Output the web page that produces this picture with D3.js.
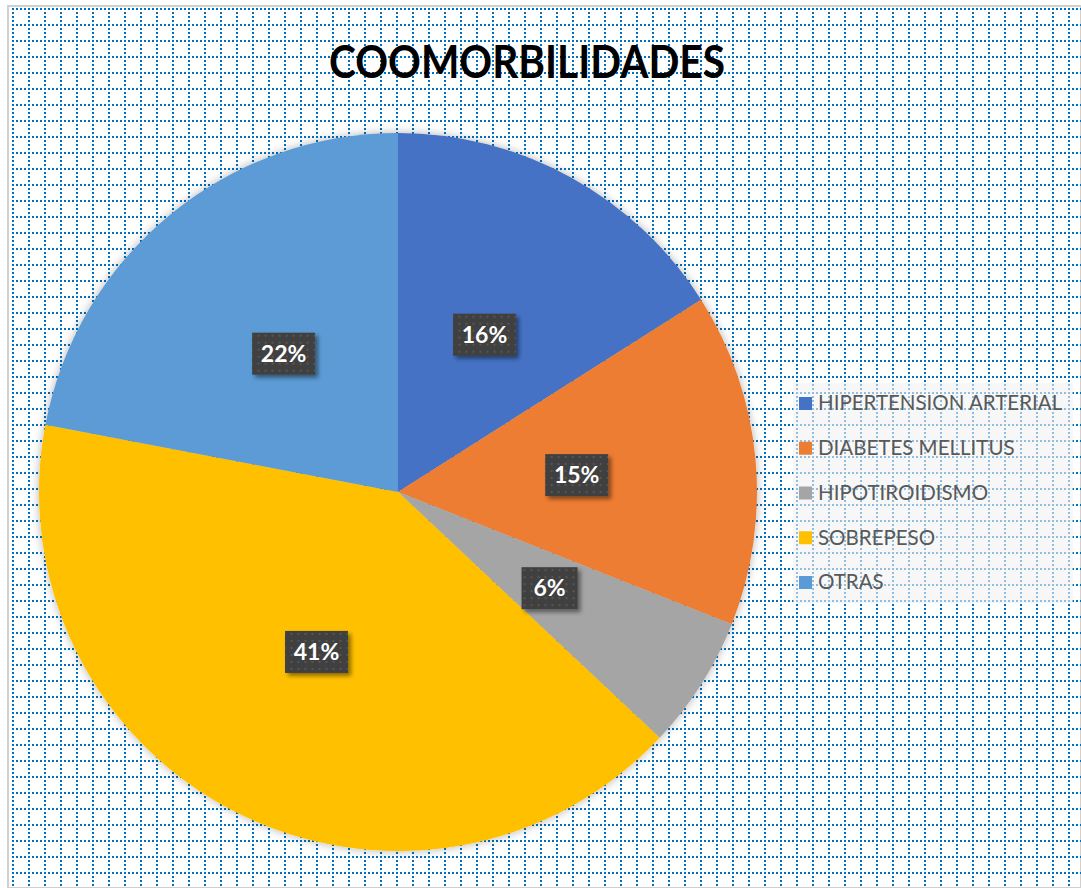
<!DOCTYPE html>
<html>
<head>
<meta charset="utf-8">
<style>
  body { margin: 0; background: #fff; }
  svg { display: block; }
  text { font-family: Lato, "Open Sans", sans-serif; }
</style>
<script src="https://d3js.org/d3.v7.min.js"></script>
</head>
<body>
<svg id="chart" width="1081" height="888"></svg>
<script>
// data
const categories = ['HIPERTENSION ARTERIAL', 'DIABETES MELLITUS', 'HIPOTIROIDISMO', 'SOBREPESO', 'OTRAS'];
const values = [16, 15, 6, 41, 22];
const colors = ['#4472C4', '#ED7D31', '#A5A5A5', '#FFC000', '#5B9BD5'];
const title = 'COOMORBILIDADES';

const W = 1081, H = 888;
const svg = d3.select('#chart');
const defs = svg.append('defs');

// shadows
const sh = defs.append('filter').attr('id', 'pieShadow')
  .attr('x', '-10%').attr('y', '-10%').attr('width', '120%').attr('height', '120%');
sh.append('feDropShadow').attr('dx', 0).attr('dy', 0).attr('stdDeviation', 5)
  .attr('flood-color', '#000').attr('flood-opacity', 0.3);

const lsh = defs.append('filter').attr('id', 'lblShadow')
  .attr('x', '-20%').attr('y', '-20%').attr('width', '150%').attr('height', '150%');
lsh.append('feDropShadow').attr('dx', 3).attr('dy', 3).attr('stdDeviation', 2)
  .attr('flood-color', '#000').attr('flood-opacity', 0.45);

// dot pattern for data label boxes
const dp = defs.append('pattern').attr('id', 'dots')
  .attr('patternUnits', 'userSpaceOnUse').attr('width', 7).attr('height', 7);
dp.append('rect').attr('width', 7).attr('height', 7).attr('fill', '#404040');
dp.append('rect').attr('x', 2).attr('y', 2).attr('width', 2).attr('height', 2).attr('fill', '#565656');

// chart frame
svg.append('rect').attr('x', 8).attr('y', 6).attr('width', W - 8).attr('height', H - 6)
  .attr('fill', '#fff').attr('stroke', '#d0d0d0').attr('stroke-width', 2);

// dotted grid background
const grid = svg.append('g').attr('stroke', '#0070C0').attr('stroke-width', 2)
  .attr('stroke-dasharray', '2,2');
grid.selectAll('line.v').data(d3.range(13, W, 16)).enter().append('line')
  .attr('x1', d => d).attr('x2', d => d).attr('y1', 8).attr('y2', H);
grid.selectAll('line.h').data(d3.range(9, H, 16)).enter().append('line')
  .attr('y1', d => d).attr('y2', d => d).attr('x1', 12).attr('x2', W);

// title
svg.append('text').attr('x', 527).attr('y', 78).attr('text-anchor', 'middle')
  .attr('font-size', 45).attr('font-weight', 'bold').attr('fill', '#000')
  .attr('textLength', 396).attr('lengthAdjust', 'spacingAndGlyphs')
  .text(title);

// pie
const cx = 398, cy = 492, r = 359;
const pie = d3.pie().sort(null).value(d => d);
const arcs = pie(values);
const arc = d3.arc().innerRadius(0).outerRadius(r);
const labelArc = d3.arc().innerRadius(r * 0.5).outerRadius(r * 0.5);

const g = svg.append('g').attr('transform', `translate(${cx},${cy})`);
g.append('g').attr('filter', 'url(#pieShadow)')
  .selectAll('path').data(arcs).enter().append('path')
  .attr('d', arc).attr('fill', (d, i) => colors[i]);

const total = d3.sum(values);
const lbl = g.selectAll('g.lbl').data(arcs).enter().append('g')
  .attr('transform', d => `translate(${labelArc.centroid(d)})`);
lbl.append('rect').attr('y', -21).attr('height', 42)
  .attr('fill', 'url(#dots)').attr('filter', 'url(#lblShadow)')
  .attr('width', d => (d.data < 10 ? 56 : 63))
  .attr('x', d => (d.data < 10 ? -28 : -31.5));
lbl.append('text').attr('text-anchor', 'middle').attr('dy', '0.36em')
  .attr('font-size', 23).attr('font-weight', 'bold').attr('fill', '#fff')
  .text(d => Math.round(d.data / total * 100) + '%');

// legend
const lg = svg.append('g');
lg.append('rect').attr('x', 793).attr('y', 383).attr('width', 280).attr('height', 220)
  .attr('fill', '#f2f2f2').attr('fill-opacity', 0.6);
const y = d3.scalePoint().domain(categories).range([403, 582]);
const item = lg.selectAll('g.item').data(categories).enter().append('g')
  .attr('transform', d => `translate(799,${y(d)})`);
item.append('rect').attr('x', 0).attr('y', -6).attr('width', 13).attr('height', 13)
  .attr('fill', (d, i) => colors[i]);
item.append('text').attr('x', 19).attr('dy', '0.36em')
  .attr('font-size', 20.5).attr('fill', '#595959').text(d => d);
</script>
</body>
</html>
